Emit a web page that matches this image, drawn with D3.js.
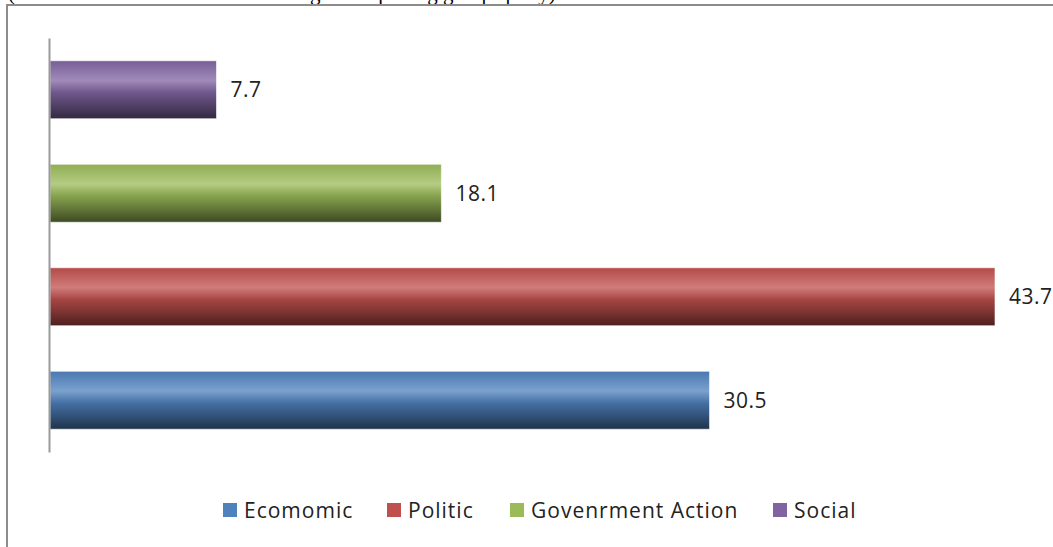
<!DOCTYPE html>
<html><head><meta charset="utf-8">
<script src="https://cdn.jsdelivr.net/npm/d3@7"></script>
<style>body{margin:0;background:#fff}svg{display:block}</style>
</head><body>
<svg id="c" width="1053" height="547"></svg>
<script>
const categories = ["Ecomomic", "Politic", "Govenrment Action", "Social"];
const values = [30.5, 43.7, 18.1, 7.7];
const colors = ["#4f81bd", "#c0504d", "#9bbb59", "#8064a2"];
const caption = "(Classification of the news according to the polling groups party)";

const svg = d3.select("#c");
const W = 1053, H = 547;
const m = {left: 50, top: 38, bottom: 95};

// caption text partly hidden above the frame (as in the reference)
svg.append("text").attr("x", 8).attr("y", 0)
  .attr("font-family", "Liberation Serif").attr("font-size", 21).attr("fill", "#000")
  .text(caption);

// frame
svg.append("rect").attr("x", 7).attr("y", 5).attr("width", W + 10).attr("height", H + 10)
  .attr("fill", "#fff").attr("stroke", "#8c8c8c").attr("stroke-width", 2);

const x = d3.scaleLinear().domain([0, 43.7]).range([m.left, 995]);
const y = d3.scaleBand().domain(categories.slice().reverse())
  .range([m.top, H - m.bottom]).paddingInner(0.44).paddingOuter(0.22);

const defs = svg.append("defs");
categories.forEach((c, i) => {
  const base = d3.color(colors[i]);
  const g = defs.append("linearGradient").attr("id", "g" + i)
    .attr("x1", 0).attr("y1", 0).attr("x2", 0).attr("y2", 1);
  const light = d3.interpolateRgb(base, "#fff")(0.25);
  g.append("stop").attr("offset", 0).attr("stop-color", base.darker(0.2));
  g.append("stop").attr("offset", 0.34).attr("stop-color", light);
  g.append("stop").attr("offset", 0.55).attr("stop-color", base.darker(0.4));
  g.append("stop").attr("offset", 0.8).attr("stop-color", base.darker(1.4));
  g.append("stop").attr("offset", 1).attr("stop-color", base.darker(2.6));
});

svg.append("g").selectAll("rect").data(categories).join("rect")
  .attr("x", x(0)).attr("y", d => y(d))
  .attr("width", (d, i) => x(values[i]) - x(0)).attr("height", y.bandwidth())
  .attr("fill", (d, i) => `url(#g${i})`)
  .attr("stroke", "rgba(255,255,255,0.6)").attr("stroke-width", 1);

svg.append("g").selectAll("text").data(categories).join("text")
  .attr("x", (d, i) => x(values[i]) + 14).attr("y", d => y(d) + y.bandwidth() / 2)
  .attr("dy", "0.36em").attr("font-family", "'Open Sans', sans-serif")
  .attr("font-size", 21).attr("letter-spacing", 0.5).attr("fill", "#222")
  .text((d, i) => values[i]);

// axis
const ax = svg.append("g").attr("transform", `translate(${m.left - 1},0)`)
  .call(d3.axisLeft(d3.scaleLinear().range([m.top, H - m.bottom])).ticks(0).tickSize(0).tickFormat(""));
ax.select(".domain").attr("stroke", "#9a9a9a").attr("stroke-width", 2);

// legend
const legX = [223, 387, 510, 773];
const leg = svg.append("g").selectAll("g").data(categories).join("g")
  .attr("transform", (d, i) => `translate(${legX[i]},503)`);
leg.append("rect").attr("width", 14).attr("height", 14).attr("fill", (d, i) => colors[i]);
leg.append("text").attr("x", 21).attr("y", 7).attr("dy", "0.36em")
  .attr("font-family", "'Open Sans', sans-serif").attr("font-size", 21)
  .attr("letter-spacing", 1).attr("fill", "#222")
  .text(d => d);
</script>
</body></html>
